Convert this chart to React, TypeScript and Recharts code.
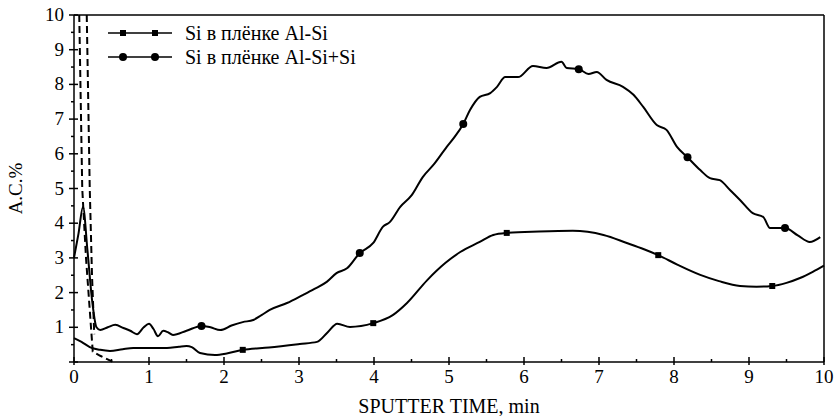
import { LineChart, Line, XAxis, YAxis, Legend, ReferenceLine } from 'recharts';

// Si в плёнке Al-Si (square markers)
const alSiTime = [0, 0.1, 0.21, 0.35, 0.48, 0.65, 0.79, 1.0, 1.24, 1.4, 1.5, 1.57, 1.68, 1.88, 2.05, 2.25, 2.6, 3.01, 3.24, 3.38, 3.51, 3.68, 3.99, 4.25, 4.44, 4.71, 4.95, 5.15, 5.41, 5.59, 5.77, 6.2, 6.65, 7.06, 7.37, 7.6, 7.79, 8.05, 8.35, 8.6, 8.88, 9.1, 9.31, 9.5, 9.68, 9.85, 10];
const alSiValue = [0.69, 0.58, 0.43, 0.35, 0.32, 0.37, 0.4, 0.4, 0.4, 0.44, 0.46, 0.43, 0.26, 0.2, 0.25, 0.35, 0.42, 0.52, 0.58, 0.85, 1.1, 1.01, 1.12, 1.35, 1.7, 2.36, 2.85, 3.17, 3.46, 3.66, 3.72, 3.76, 3.78, 3.66, 3.43, 3.25, 3.08, 2.8, 2.51, 2.33, 2.19, 2.17, 2.19, 2.28, 2.42, 2.6, 2.78];
const alSiMarkers = [2.25, 3.99, 5.77, 7.79, 9.31];

// Si в плёнке Al-Si+Si (circle markers)
const alSiSiTime = [0, 0.06, 0.12, 0.18, 0.24, 0.3, 0.35, 0.45, 0.55, 0.66, 0.75, 0.84, 0.93, 1.0, 1.06, 1.12, 1.19, 1.25, 1.32, 1.5, 1.7, 1.82, 1.95, 2.1, 2.25, 2.39, 2.5, 2.61, 2.84, 3.05, 3.2, 3.37, 3.5, 3.64, 3.81, 3.99, 4.12, 4.21, 4.35, 4.5, 4.65, 4.8, 4.97, 5.08, 5.19, 5.28, 5.41, 5.55, 5.64, 5.75, 5.92, 6.12, 6.3, 6.5, 6.57, 6.73, 6.86, 6.97, 7.1, 7.32, 7.46, 7.59, 7.77, 7.9, 8.04, 8.18, 8.35, 8.48, 8.61, 8.75, 8.88, 9.05, 9.19, 9.28, 9.48, 9.65, 9.81, 9.95];
const alSiSiValue = [3.0, 3.7, 4.47, 3.2, 1.8, 1.0, 0.92, 1.0, 1.07, 0.98, 0.9, 0.8, 1.0, 1.1, 0.95, 0.74, 0.9, 0.86, 0.78, 0.9, 1.04, 1.0, 0.92, 1.05, 1.15, 1.21, 1.35, 1.5, 1.7, 1.93, 2.1, 2.31, 2.56, 2.7, 3.14, 3.43, 3.9, 4.03, 4.47, 4.8, 5.33, 5.7, 6.2, 6.5, 6.86, 7.26, 7.64, 7.75, 7.93, 8.21, 8.21, 8.53, 8.47, 8.65, 8.47, 8.44, 8.3, 8.36, 8.13, 7.93, 7.7, 7.35, 6.83, 6.69, 6.2, 5.9, 5.53, 5.3, 5.24, 4.95, 4.67, 4.29, 4.18, 3.86, 3.86, 3.65, 3.46, 3.6];
const alSiSiMarkers = [1.7, 3.81, 5.19, 6.73, 8.18, 9.48];

// dashed traces near the surface
const dashATime = [0.07, 0.11, 0.16, 0.22, 0.25, 0.35, 0.52];
const dashAValue = [10, 5, 3, 1.2, 0.3, 0.18, 0];
const dashBTime = [0.17, 0.21, 0.24, 0.27];
const dashBValue = [10, 5, 2.5, 0.8];

const xTicks = [0, 0.5, 1, 1.5, 2, 2.5, 3, 3.5, 4, 4.5, 5, 5.5, 6, 6.5, 7, 7.5, 8, 8.5, 9, 9.5, 10];
const yTicks = [0, 0.5, 1, 1.5, 2, 2.5, 3, 3.5, 4, 4.5, 5, 5.5, 6, 6.5, 7, 7.5, 8, 8.5, 9, 9.5, 10];

const FONT = "'Liberation Serif', 'Times New Roman', serif";
const textStyle = { fontFamily: FONT };

const build = (xs: number[], ys: number[], marks: number[] = []) =>
  xs.map((x, i) => ({ x, y: ys[i], m: marks.includes(x) }));

const alSi = build(alSiTime, alSiValue, alSiMarkers);
const alSiSi = build(alSiSiTime, alSiSiValue, alSiSiMarkers);
const dashA = build(dashATime, dashAValue);
const dashB = build(dashBTime, dashBValue);

const squareDot = (p: any) =>
  p.payload.m ? (
    <rect key={p.index} x={p.cx - 3} y={p.cy - 3} width={6} height={6} fill="#000" />
  ) : (
    <g key={p.index} />
  );

const circleDot = (p: any) =>
  p.payload.m ? <circle key={p.index} cx={p.cx} cy={p.cy} r={4} fill="#000" /> : <g key={p.index} />;

const XTick = ({ x, y, payload }: any) => {
  const major = Number.isInteger(payload.value);
  return (
    <g>
      <line x1={x} x2={x} y1={y - (major ? 5 : 3)} y2={y + (major ? 3 : 0)} stroke="#000" strokeWidth={1.5} />
      {major && (
        <text x={x} y={y + 21} textAnchor="middle" fontSize={19} style={textStyle} fill="#000">
          {payload.value}
        </text>
      )}
    </g>
  );
};

const YTick = ({ x, y, payload }: any) => {
  const major = Number.isInteger(payload.value);
  return (
    <g>
      <line x1={x - (major ? 5 : 3)} x2={x + (major ? 4 : 0)} y1={y} y2={y} stroke="#000" strokeWidth={1.5} />
      {major && payload.value > 0 && (
        <text x={x - 10} y={y + 6} textAnchor="end" fontSize={19} style={textStyle} fill="#000">
          {payload.value}
        </text>
      )}
    </g>
  );
};

const LegendContent = () => (
  <div style={{ fontFamily: FONT, fontSize: 20, color: '#000' }}>
    {[
      { label: 'Si в плёнке Al-Si', shape: 'square' },
      { label: 'Si в плёнке Al-Si+Si', shape: 'circle' },
    ].map((row) => (
      <div key={row.label} style={{ display: 'flex', alignItems: 'center', height: 24 }}>
        <svg width={64} height={12}>
          <line x1={0} x2={64} y1={6} y2={6} stroke="#000" strokeWidth={1.5} />
          {[15, 47].map((cx) =>
            row.shape === 'square' ? (
              <rect key={cx} x={cx - 3} y={3} width={6} height={6} fill="#000" />
            ) : (
              <circle key={cx} cx={cx} cy={6} r={4} fill="#000" />
            )
          )}
        </svg>
        <span style={{ marginLeft: 13, whiteSpace: 'nowrap' }}>{row.label}</span>
      </div>
    ))}
  </div>
);

export default function App() {
  return (
    <div style={{ position: 'absolute', left: 0, top: 0, background: '#fff' }}>
      <LineChart width={838} height={416} margin={{ top: 15, right: 14, left: 0, bottom: 0 }}>
        <XAxis
          dataKey="x"
          type="number"
          domain={[0, 10]}
          ticks={xTicks}
          tick={<XTick />}
          tickSize={0}
          tickMargin={0}
          tickLine={false}
          axisLine={{ stroke: '#000', strokeWidth: 1.5 }}
          height={54}
          interval={0}
          label={{
            content: ({ viewBox }: any) => (
              <text
                x={viewBox.x + viewBox.width / 2}
                y={viewBox.y + 51}
                textAnchor="middle"
                fontSize={20}
                style={textStyle}
                fill="#000"
              >
                SPUTTER TIME, min
              </text>
            ),
          }}
        />
        <YAxis
          type="number"
          domain={[0, 10]}
          ticks={yTicks}
          tick={<YTick />}
          tickSize={0}
          tickMargin={0}
          tickLine={false}
          axisLine={{ stroke: '#000', strokeWidth: 1.5 }}
          width={74}
          interval={0}
          label={{
            content: ({ viewBox }: any) => {
              const cx = 22;
              const cy = viewBox.y + viewBox.height / 2;
              return (
                <text
                  x={cx}
                  y={cy}
                  transform={`rotate(-90 ${cx} ${cy})`}
                  textAnchor="middle"
                  fontSize={19}
                  style={textStyle}
                  fill="#000"
                >
                  A.C.%
                </text>
              );
            },
          }}
        />
        <ReferenceLine y={10} stroke="#000" strokeWidth={1.5} />
        <ReferenceLine x={10} stroke="#000" strokeWidth={1.5} />
        <Legend
          layout="vertical"
          align="center"
          verticalAlign="middle"
          content={<LegendContent />}
          wrapperStyle={{ left: 108, top: 21, width: 'auto' }}
        />
        <Line
          data={dashA}
          dataKey="y"
          type="linear"
          stroke="#000"
          strokeWidth={2}
          strokeDasharray="7 4"
          dot={false}
          activeDot={false}
          legendType="none"
          isAnimationActive={false}
        />
        <Line
          data={dashB}
          dataKey="y"
          type="linear"
          stroke="#000"
          strokeWidth={2}
          strokeDasharray="7 4"
          dot={false}
          activeDot={false}
          legendType="none"
          isAnimationActive={false}
        />
        <Line
          data={alSi}
          dataKey="y"
          name="Si в плёнке Al-Si"
          type="monotone"
          stroke="#000"
          strokeWidth={2}
          dot={squareDot}
          activeDot={false}
          isAnimationActive={false}
        />
        <Line
          data={alSiSi}
          dataKey="y"
          name="Si в плёнке Al-Si+Si"
          type="monotone"
          stroke="#000"
          strokeWidth={2}
          dot={circleDot}
          activeDot={false}
          isAnimationActive={false}
        />
      </LineChart>
    </div>
  );
}
